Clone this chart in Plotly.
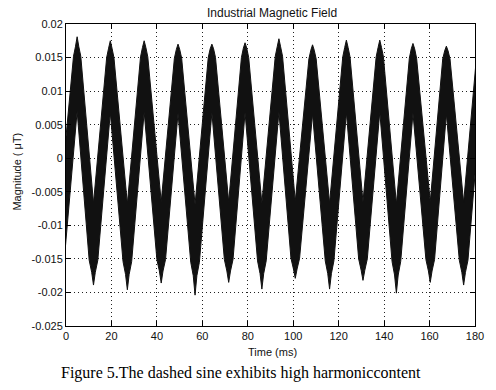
import plotly.graph_objects as go

# ---- data (time in ms, magnitude in uT) ----
# extremes of the noisy wave (first trough and last peak lie just outside the axis range)
peak_t = [4.9, 19.5, 34.4, 49.3, 64.2, 78.8, 93.7, 108.5, 123.4, 138.1, 152.7, 167.4, 182.2]
peak_tip = [0.0181, 0.0175, 0.0175, 0.0170, 0.0170, 0.0172, 0.0178, 0.0169, 0.0176, 0.0176, 0.0171, 0.0167, 0.0170]
peak_shoulder = [0.0166, 0.0164, 0.0165, 0.0162, 0.0163, 0.0164, 0.0166, 0.0161, 0.0165, 0.0165, 0.0163, 0.0160, 0.0162]
peak_body = [0.0152, 0.0150, 0.0151, 0.0149, 0.0150, 0.0150, 0.0152, 0.0148, 0.0151, 0.0151, 0.0149, 0.0148, 0.0149]
peak_notch = [0.0070, 0.0068, 0.0069, 0.0067, 0.0068, 0.0068, 0.0069, 0.0066, 0.0068, 0.0069, 0.0067, 0.0066, 0.0067]

trough_t = [-2.7, 12.1, 27.0, 41.9, 56.8, 71.6, 86.2, 100.9, 116.0, 130.7, 145.4, 160.3, 175.0]
trough_tip = [-0.0190, -0.0189, -0.0196, -0.0186, -0.0204, -0.0185, -0.0195, -0.0179, -0.0195, -0.0182, -0.0201, -0.0185, -0.0189]
trough_shoulder = [-0.0171, -0.0170, -0.0173, -0.0168, -0.0175, -0.0168, -0.0172, -0.0165, -0.0172, -0.0167, -0.0174, -0.0168, -0.0170]
trough_body = [-0.0153, -0.0152, -0.0154, -0.0151, -0.0155, -0.0151, -0.0153, -0.0149, -0.0153, -0.0150, -0.0154, -0.0151, -0.0152]
trough_notch = [-0.0066, -0.0067, -0.0068, -0.0065, -0.0069, -0.0065, -0.0067, -0.0064, -0.0067, -0.0065, -0.0068, -0.0065, -0.0066]

x_ticks = [0, 20, 40, 60, 80, 100, 120, 140, 160, 180]
x_labels = ["0", "20", "40", "60", "80", "100", "120", "140", "160", "180"]
y_ticks = [-0.025, -0.02, -0.015, -0.01, -0.005, 0, 0.005, 0.01, 0.015, 0.02]
y_labels = ["-0.025", "-0.02", "-0.015", "-0.01", "-0.005", "0", "0.005", "0.01", "0.015", "0.02"]

# ---- envelope of the black band (upper and lower edges) ----
upper = []
for t, tip, sh, bd in zip(peak_t, peak_tip, peak_shoulder, peak_body):
    upper += [(t - 1.6, bd), (t - 0.75, sh), (t, tip), (t + 0.75, sh), (t + 1.6, bd)]
for t, n in zip(trough_t, trough_notch):
    upper.append((t, n))
upper.sort()

lower = []
for t, tip, sh, bd in zip(trough_t, trough_tip, trough_shoulder, trough_body):
    lower += [(t - 1.9, bd), (t - 0.8, sh), (t, tip), (t + 0.8, sh), (t + 1.9, bd)]
for t, n in zip(peak_t, peak_notch):
    lower.append((t, n))
lower.sort()

poly_x = [p[0] for p in upper] + [p[0] for p in reversed(lower)]
poly_y = [p[1] for p in upper] + [p[1] for p in reversed(lower)]

fig = go.Figure()
fig.add_trace(go.Scatter(
    x=poly_x, y=poly_y, mode="lines", fill="toself",
    fillcolor="#111111", line=dict(color="#111111", width=1),
    hoverinfo="skip", showlegend=False,
))

tick_font = dict(family="Liberation Sans, Arial, sans-serif", size=11, color="#111111")
axis_common = dict(
    showline=True, linecolor="black", linewidth=1, mirror="ticks",
    ticks="inside", ticklen=5, tickcolor="black",
    showgrid=True, gridcolor="#222222", gridwidth=1, griddash="1px,3px",
    zeroline=False, tickfont=tick_font,
)

fig.update_layout(
    width=496, height=390,
    margin=dict(l=66, r=21, t=24, b=64),
    paper_bgcolor="white", plot_bgcolor="white",
    xaxis=dict(range=[0, 180], tickvals=x_ticks, ticktext=x_labels, **axis_common),
    yaxis=dict(range=[-0.025, 0.02], tickvals=y_ticks, ticktext=y_labels, **axis_common),
    showlegend=False,
)

fig.add_annotation(text="Industrial Magnetic Field", xref="paper", yref="paper",
                   x=0.5037, y=1.0364, xanchor="center", yanchor="middle", showarrow=False,
                   font=dict(family="Liberation Sans, Arial, sans-serif", size=12, color="#111111"))
fig.add_annotation(text="Time (ms)", xref="paper", yref="paper",
                   x=0.5037, y=-0.086, xanchor="center", yanchor="middle", showarrow=False,
                   font=dict(family="Liberation Sans, Arial, sans-serif", size=11, color="#111111"))
fig.add_annotation(text="Magnitude ( μT)", xref="paper", yref="paper",
                   x=-0.1196, y=0.5116, xanchor="center", yanchor="middle", showarrow=False,
                   textangle=-90,
                   font=dict(family="Liberation Sans, Arial, sans-serif", size=11, color="#111111"))
fig.add_annotation(text="Figure 5.The dashed sine exhibits high harmoniccontent", xref="paper", yref="paper",
                   x=0.429, y=-0.1556, xanchor="center", yanchor="middle", showarrow=False,
                   font=dict(family="Liberation Serif, Times New Roman, serif", size=16, color="black"))

# remove the browser's default page margin so the figure sits at the window origin
fig.write_html(
    "out.html",
    config={"displayModeBar": False, "staticPlot": True},
    post_script="document.body.style.margin='0';document.body.style.overflow='hidden';",
)
